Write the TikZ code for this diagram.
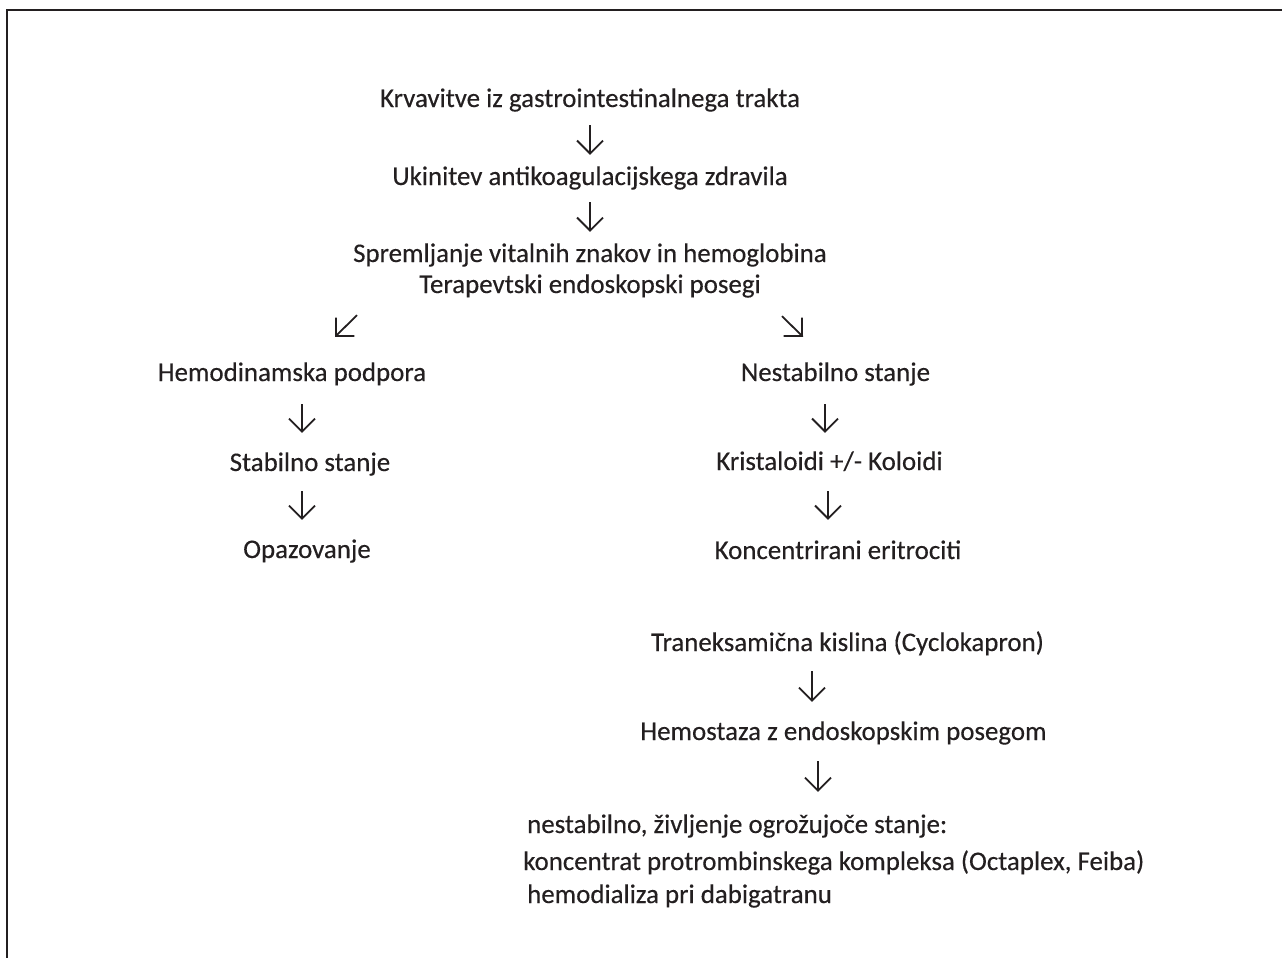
\documentclass[tikz,border=0pt]{standalone}
\usepackage{fontspec}
\setmainfont{Carlito}[UprightFeatures={FakeBold=0.35}]
\usetikzlibrary{arrows.meta,calc}
\definecolor{ink}{RGB}{35,31,32}
\begin{document}
\begin{tikzpicture}[x=1pt,y=-1pt,
  lbl/.style={anchor=base, inner sep=0pt, text height=16pt, text depth=5pt,
    font=\fontsize{26.9}{32}\selectfont, text=ink},
  arr/.style={line width=1.8pt, draw=ink,
    -{Straight Barb[length=13pt,width=26pt]}},
  frame/.style={line width=2pt, draw=ink}
]
\useasboundingbox (0,0) rectangle (1282,958);

% open frame: top and left edges only
\draw[frame] (6.5,958) -- (6.5,10) -- (1282,10);

% main trunk
\node[lbl] (n1) at (590,107) {Krvavitve iz gastrointestinalnega trakta};
\node[lbl] (n2) at (590,185) {Ukinitev antikoagulacijskega zdravila};
\node[lbl] (n3) at (590,262) {Spremljanje vitalnih znakov in hemoglobina};
\node[lbl] (n4) at (590,293) {Terapevtski endoskopski posegi};

% left branch
\node[lbl] (l1) at (292,381) {Hemodinamska podpora};
\node[lbl] (l2) at (310,471) {Stabilno stanje};
\node[lbl] (l3) at (307,558) {Opazovanje};

% right branch
\node[lbl] (r1) at (835.5,381) {Nestabilno stanje};
\node[lbl] (r2) at (829.5,470) {Kristaloidi +/- Koloidi};
\node[lbl] (r3) at (838,559) {Koncentrirani eritrociti};
\node[lbl] (r4) at (847.5,651) {Traneksamična kislina (Cyclokapron)};
\node[lbl] (r5) at (843.5,740) {Hemostaza z endoskopskim posegom};

% final measures
\node[lbl, anchor=base west] (b1) at (527,833) {nestabilno, življenje ogrožujoče stanje:};
\node[lbl, anchor=base west] (b2) at (523,870) {koncentrat protrombinskega kompleksa (Octaplex, Feiba)};
\node[lbl, anchor=base west] (b3) at (527,903) {hemodializa pri dabigatranu};

% arrows
\draw[arr] ($(n1.south)+(0,13)$) -- ($(n2.north)+(0,-14)$);
\draw[arr] ($(n2.south)+(0,12)$) -- ($(n3.north)+(0,-14)$);
\draw[arr] ($(n4.south)+(-233,17)$) -- ($(l1.north)+(43,-28)$);
\draw[arr] ($(n4.south)+(192,18)$) -- ($(r1.north)+(-32.5,-28)$);
\draw[arr] ($(l1.south)+(10,18)$) -- ($(l2.north)+(-8,-22)$);
\draw[arr] ($(l2.south)+(-8,15)$) -- ($(l3.north)+(-5,-22)$);
\draw[arr] ($(r1.south)+(-10.5,18)$) -- ($(r2.north)+(-4.5,-21)$);
\draw[arr] ($(r2.south)+(-1.5,16)$) -- ($(r3.north)+(-10,-23)$);
\draw[arr] ($(r4.south)+(-35.5,15)$) -- ($(r5.north)+(-31.5,-22)$);
\draw[arr] ($(r5.south)+(-25.5,16)$) -- ($(b1.north west)+(291,-25)$);
\end{tikzpicture}
\end{document}
